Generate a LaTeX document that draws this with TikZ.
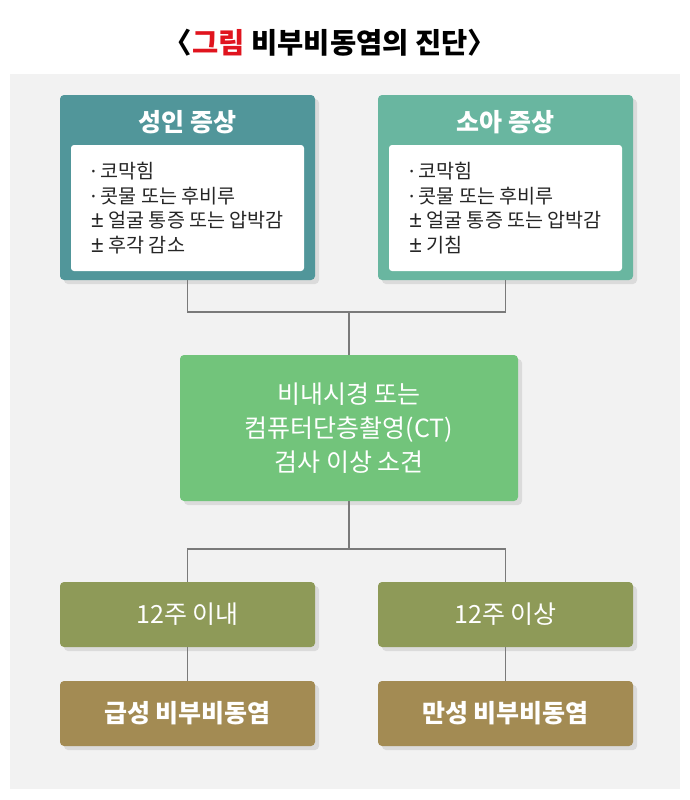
\documentclass[tikz,border=0pt]{standalone}
\usepackage{fontspec}
\setmainfont{Noto Sans CJK KR}
\newfontfamily\latinsym{Noto Sans}
\usetikzlibrary{shadows}

\newcommand{\dotitem}{{\latinsym\bfseries ·} }
\newcommand{\pmitem}{{\latinsym\fontsize{23}{24.5}\selectfont ±} }

\begin{document}
\begin{tikzpicture}[x=1pt,y=-1pt,
    box/.style={rounded corners=4pt, inner sep=0pt, minimum width=255pt,
      drop shadow={shadow xshift=4pt, shadow yshift=-4pt, fill=black!14, opacity=1}},
    head/.style={text=white, font=\fontsize{25}{29}\selectfont\bfseries},
    label/.style={text=white, font=\fontsize{25}{29}\selectfont},
    list/.style={fill=white, rounded corners=3pt, inner sep=0pt,
      minimum width=233pt, minimum height=126pt, align=left,
      text=black!85, font=\fontsize{19.6}{24.5}\selectfont},
    link/.style={draw=black!52, line width=1.2pt}]
    \definecolor{bg}{HTML}{F2F2F2}
    \definecolor{adultc}{HTML}{51969A}
    \definecolor{childc}{HTML}{69B6A0}
    \definecolor{ctc}{HTML}{72C47B}
    \definecolor{weekc}{HTML}{8E9A58}
    \definecolor{resc}{HTML}{A38B53}
    \definecolor{titlered}{HTML}{E0141E}

    \useasboundingbox (0,0) rectangle (690,800);
    \fill[bg] (10,74) rectangle (680,789);

    \node (title) at (330,43) {\fontsize{28.5}{32}\selectfont\bfseries
      〈\textcolor{titlered}{그림} 비부비동염의 진단〉};

    %% symptom boxes
    \node[box, fill=adultc, minimum height=185pt] (adult) at (187.5,187.5) {};
    \node[box, fill=childc, minimum height=185pt] (child) at (505.5,187.5) {};

    \node[head] (adulthead) at (187.5,122) {성인 증상};
    \node[head] (childhead) at (505.5,122) {소아 증상};

    \node[list] (adultlist) at (187.5,208) {\dotitem 코막힘\\\dotitem 콧물 또는 후비루\\\pmitem 얼굴 통증 또는 압박감\\\pmitem 후각 감소};
    \node[list] (childlist) at (505.5,208) {\dotitem 코막힘\\\dotitem 콧물 또는 후비루\\\pmitem 얼굴 통증 또는 압박감\\\pmitem 기침};

    %% findings
    \node[box, fill=ctc, minimum width=338pt, minimum height=146pt,
      label, align=center, font=\fontsize{25}{34}\selectfont] (ct) at (349,428)
      {비내시경 또는\\컴퓨터단층촬영(CT)\\검사 이상 소견};

    %% duration and diagnosis
    \node[box, fill=weekc, minimum height=65pt, label] (wk1) at (187.5,614.5) {12주 이내};
    \node[box, fill=weekc, minimum height=65pt, label] (wk2) at (505.5,614.5) {12주 이상};

    \node[box, fill=resc, minimum height=65pt, label,
      font=\fontsize{25}{29}\selectfont\bfseries] (acute) at (187.5,713.5) {급성 비부비동염};
    \node[box, fill=resc, minimum height=65pt, label,
      font=\fontsize{25}{29}\selectfont\bfseries] (chronic) at (505.5,713.5) {만성 비부비동염};

    \coordinate (jtop) at (349,312);
    \coordinate (jbot) at (349,549);

    \draw[link] (adult.south) |- (jtop) -| (child.south);
    \draw[link] (jtop) -- (ct.north);
    \draw[link] (ct.south) -- (jbot);
    \draw[link] (wk1.north) |- (jbot) -| (wk2.north);
    \draw[link] (wk1.south) -- (acute.north);
    \draw[link] (wk2.south) -- (chronic.north);

\end{tikzpicture}
\end{document}
